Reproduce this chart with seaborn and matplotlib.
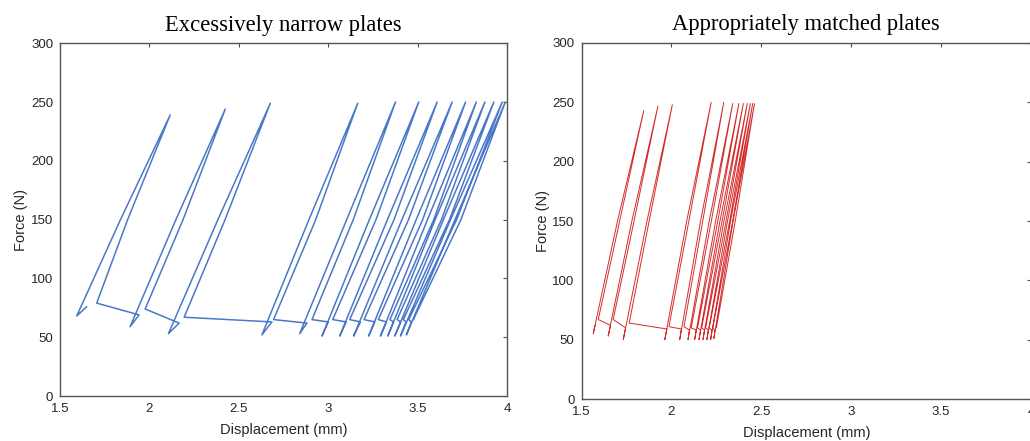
import numpy as np
import pandas as pd
import matplotlib
matplotlib.use("Agg")
import matplotlib.pyplot as plt
import seaborn as sns

# force level at which the mid-points of each loop were read
MID_FORCE = 150

# ---- left panel: excessively narrow plates (one entry per loop) ----
narrow_hook_x = [1.649, 1.942, 2.166, 2.685, 2.881, 3.000, 3.100, 3.180, 3.260, 3.325, 3.365, 3.405, 3.435, 3.465]
narrow_hook_y = [76, 69, 62, 63, 62, 63, 63, 63, 63, 63, 63, 63, 63, 63]
narrow_low_x = [1.593, 1.892, 2.106, 2.629, 2.840, 2.965, 3.064, 3.142, 3.226, 3.292, 3.333, 3.372, 3.404, 3.437]
narrow_low_y = [68, 59, 53, 52, 53, 51, 51, 51, 51, 51, 51, 51, 51, 52]
narrow_up_mid_x = [1.838, 2.148, 2.383, 2.892, 3.103, 3.230, 3.331, 3.412, 3.492, 3.555, 3.598, 3.644, 3.684, 3.709]
narrow_peak_x = [2.116, 2.424, 2.676, 3.165, 3.376, 3.506, 3.609, 3.693, 3.768, 3.828, 3.876, 3.926, 3.973, 3.990]
narrow_peak_y = [239, 244, 249, 249, 250, 250, 250, 250, 250, 250, 250, 250, 250, 250]
narrow_down_mid_x = [1.878, 2.188, 2.423, 2.930, 3.140, 3.267, 3.368, 3.449, 3.528, 3.590, 3.633, 3.678, 3.718, 3.742]
narrow_ret_x = [1.705, 1.976, 2.194, 2.694, 2.909, 3.025, 3.120, 3.200, 3.280, 3.345, 3.385, 3.420, 3.450, 3.476]
narrow_ret_y = [79, 74, 67, 65, 65, 65, 65, 65, 65, 65, 65, 65, 65, 65]

# ---- right panel: appropriately matched plates ----
matched_hook_x = [1.575, 1.662, 1.745, 1.975, 2.055, 2.100, 2.138, 2.162, 2.184, 2.205, 2.225, 2.242]
matched_hook_y = [62, 62, 60, 59, 59, 58, 58, 58, 58, 58, 58, 58]
matched_low_x = [1.565, 1.648, 1.732, 1.963, 2.046, 2.092, 2.129, 2.153, 2.175, 2.197, 2.218, 2.236]
matched_low_y = [55, 53, 50, 50, 50, 50, 50, 50, 50, 50, 50, 51]
matched_up_mid_x = [1.700, 1.780, 1.864, 2.085, 2.162, 2.210, 2.246, 2.270, 2.292, 2.312, 2.329, 2.343]
matched_peak_x = [1.846, 1.925, 2.005, 2.221, 2.291, 2.341, 2.375, 2.400, 2.422, 2.439, 2.452, 2.462]
matched_peak_y = [243, 247, 248, 250, 250, 249, 249, 249, 249, 249, 249, 249]
matched_down_mid_x = [1.712, 1.792, 1.876, 2.097, 2.174, 2.222, 2.258, 2.282, 2.304, 2.324, 2.341, 2.355]
matched_ret_x = [1.593, 1.676, 1.765, 1.986, 2.070, 2.110, 2.145, 2.168, 2.190, 2.210, 2.230, 2.250]
matched_ret_y = [67, 67, 64, 61, 61, 60, 60, 60, 60, 60, 60, 60]

x_ticks = [1.5, 2, 2.5, 3, 3.5, 4]
x_tick_labels = ["1.5", "2", "2.5", "3", "3.5", "4"]
y_ticks = [0, 50, 100, 150, 200, 250, 300]


def build_path(hook_x, hook_y, low_x, low_y, up_mid_x, peak_x, peak_y, down_mid_x, ret_x, ret_y):
    xs, ys = [], []
    for i in range(len(low_x)):
        xs += [hook_x[i], low_x[i], up_mid_x[i], peak_x[i], down_mid_x[i], ret_x[i]]
        ys += [hook_y[i], low_y[i], MID_FORCE, peak_y[i], MID_FORCE, ret_y[i]]
    return pd.DataFrame({"disp": xs, "force": ys})


narrow = build_path(narrow_hook_x, narrow_hook_y, narrow_low_x, narrow_low_y, narrow_up_mid_x,
                    narrow_peak_x, narrow_peak_y, narrow_down_mid_x, narrow_ret_x, narrow_ret_y)
matched = build_path(matched_hook_x, matched_hook_y, matched_low_x, matched_low_y, matched_up_mid_x,
                     matched_peak_x, matched_peak_y, matched_down_mid_x, matched_ret_x, matched_ret_y)

sns.set_theme(style="white")
plt.rcParams["font.family"] = ["Liberation Sans", "DejaVu Sans"]

fig = plt.figure(figsize=(10.3, 4.41), dpi=100)
ax1 = fig.add_axes([0.0583, 0.102, 0.4340, 0.800])
ax2 = fig.add_axes([0.5646, 0.0952, 0.4364, 0.8073])

panels = [
    (ax1, narrow, "#4a78c8", 1.1, "Excessively narrow plates"),
    (ax2, matched, "#d42a2a", 0.7, "Appropriately matched plates"),
]

for ax, df, color, lw, title in panels:
    sns.lineplot(data=df, x="disp", y="force", sort=False, estimator=None,
                 color=color, linewidth=lw, ax=ax)
    ax.set_xlim(1.5, 4)
    ax.set_ylim(0, 300)
    ax.set_xticks(x_ticks)
    ax.set_xticklabels(x_tick_labels)
    ax.set_yticks(y_ticks)
    ax.tick_params(direction="in", length=3, width=0.8, top=True, right=True,
                   colors="#4d4d4d", labelsize=9.5, pad=5, labelcolor="#262626")
    for sp in ax.spines.values():
        sp.set_color("#555555")
        sp.set_linewidth(1.0)
    ax.set_xlabel("Displacement (mm)", fontsize=10.5, color="#262626", labelpad=6)
    ax.set_ylabel("Force (N)", fontsize=10.5, color="#262626", labelpad=2)
    ax.set_title(title, family="Liberation Serif", fontsize=16.3, color="black", pad=9)

fig.savefig("out.png", dpi=100)
